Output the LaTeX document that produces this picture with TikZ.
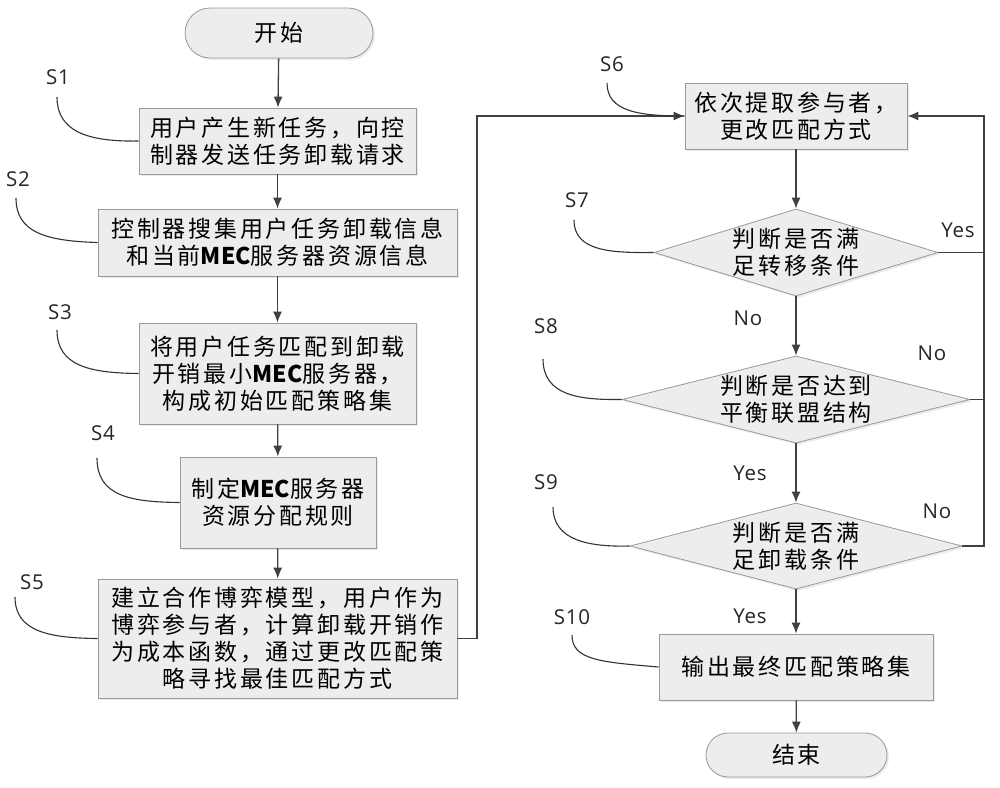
\documentclass[tikz,border=0pt]{standalone}
\usepackage{fontspec}
\newfontfamily\cjk{Noto Sans CJK SC}[LetterSpace=12]
\newfontfamily\cjkm{Noto Sans CJK SC}
\newfontfamily\lat{Open Sans}[LetterSpace=4]
\newcommand{\mec}{{\cjkm\bfseries MEC}}
\usetikzlibrary{arrows.meta,shapes.geometric,shadows}
\begin{document}
\begin{tikzpicture}[x=1pt,y=-1pt,
  line/.style={draw=black!75, line width=1.3pt},
  arr/.style={line, -{Latex[length=11pt,width=9pt]}},
  curv/.style={draw=black!80, line width=1.1pt},
  shd/.style={drop shadow={shadow xshift=2pt,shadow yshift=-2pt,fill=black!15}},
  box/.style={draw=black!40, fill=black!7, line width=0.8pt, inner sep=0pt, align=center, shd,
    font=\cjk\fontsize{23}{27}\selectfont},
  term/.style={box, rounded corners=22pt},
  dia/.style={diamond, draw=black!40, fill=black!7, line width=0.8pt, inner sep=0pt, shd},
  dtxt/.style={align=center, inner sep=0pt, font=\cjk\fontsize{23}{27}\selectfont},
  lab/.style={font=\lat\fontsize{20.5}{22}\selectfont, inner sep=0pt, text=black!85},
]
\useasboundingbox[fill=white] (0,0) rectangle (1000,787);

% left column
\node[term, minimum width=188pt, minimum height=50pt, rounded corners=25pt] (start) at (279,33) {开始};
\node[box, minimum width=277pt, minimum height=66pt] (s1) at (277.5,141) {用户产生新任务，向控\\制器发送任务卸载请求};
\node[box, minimum width=359pt, minimum height=67pt] (s2) at (277.5,242.5) {控制器搜集用户任务卸载信息\\和当前\mec 服务器资源信息};
\node[box, minimum width=277pt, minimum height=101pt] (s3) at (277.5,373.5) {将用户任务匹配到卸载\\开销最小\mec 服务器，\\构成初始匹配策略集};
\node[box, minimum width=196pt, minimum height=91pt] (s4) at (278,502.5) {制定\mec 服务器\\资源分配规则};
\node[box, minimum width=359pt, minimum height=119pt] (s5) at (277.5,638.5) {建立合作博弈模型，用户作为\\博弈参与者，计算卸载开销作\\为成本函数，通过更改匹配策\\略寻找最佳匹配方式};

% right column
\node[box, minimum width=222pt, minimum height=66pt] (s6) at (796,116) {依次提取参与者，\\更改匹配方式};
\node[dia, minimum width=284pt, minimum height=87pt] (d7) at (796,252.5) {};
\node[dtxt] (d7t) at (d7) {判断是否满\\足转移条件};
\node[dia, minimum width=348pt, minimum height=87pt] (d8) at (796,399.5) {};
\node[dtxt] (d8t) at (d8) {判断是否达到\\平衡联盟结构};
\node[dia, minimum width=332pt, minimum height=86pt] (d9) at (796,546) {};
\node[dtxt] (d9t) at (d9) {判断是否满\\足卸载条件};
\node[box, minimum width=274pt, minimum height=66pt] (s10) at (796,667) {输出最终匹配策略集};
\node[term, minimum width=181pt, minimum height=44pt] (end) at (796.5,755) {结束};

% loop coordinates
\coordinate (loopL) at (477,116);
\coordinate (loopR) at (984,116);

% connectors
\draw[arr] (start) -- (s1);
\draw[arr] (s1) -- (s2);
\draw[arr] (s2) -- (s3);
\draw[arr] (s3) -- (s4);
\draw[arr] (s4) -- (s5);
\draw[arr] (s5.east) -| (loopL) -- (s6.west);
\draw[arr] (s6) -- (d7);
\draw[arr] (d7) -- (d8);
\draw[arr] (d8) -- (d9);
\draw[arr] (d9) -- (s10);
\draw[arr] (s10) -- (end);
\draw[line] (d7.east) -- (d7.east -| loopR);
\draw[line] (d8.east) -- (d8.east -| loopR);
\draw[arr] (d9.east) -| (loopR) -- (s6.east);

% Yes / No labels
\node[lab] (y7) at (958,230) {Yes};
\node[lab] (n7) at (748,318) {No};
\node[lab] (n8) at (932,353) {No};
\node[lab] (y8) at (750,473) {Yes};
\node[lab] (n9) at (937,511) {No};
\node[lab] (y9) at (750,616) {Yes};

% step labels and curves
\node[lab] (l1) at (58,77) {S1};
\coordinate (c1) at (57,97);
\draw[curv] (c1) .. controls (57,130) and (85,142) .. (s1.west);
\node[lab] (l2) at (18,179) {S2};
\coordinate (c2) at (16,198);
\draw[curv] (c2) .. controls (16,232) and (45,241) .. (s2.west);
\node[lab] (l3) at (60,312) {S3};
\coordinate (c3) at (57,330);
\draw[curv] (c3) .. controls (57,366) and (90,373) .. (s3.west);
\node[lab] (l4) at (103,433) {S4};
\coordinate (c4) at (97,458);
\draw[curv] (c4) .. controls (97,496) and (130,502) .. (s4.west);
\node[lab] (l5) at (32,582) {S5};
\coordinate (c5) at (15,597);
\draw[curv] (c5) .. controls (15,632) and (50,638) .. (s5.west);
\node[lab] (l6) at (612,64) {S6};
\coordinate (c6) at (607,83);
\draw[curv] (c6) .. controls (607,112) and (640,116) .. (s6.west);
\node[lab] (l7) at (577,200) {S7};
\coordinate (c7) at (574,220);
\draw[curv] (c7) .. controls (574,251) and (610,253) .. (d7.west);
\node[lab] (l8) at (546,326) {S8};
\coordinate (c8) at (543,359);
\draw[curv] (c8) .. controls (543,396) and (580,400) .. (d8.west);
\node[lab] (l9) at (546,482) {S9};
\coordinate (c9) at (553,507);
\draw[curv] (c9) .. controls (553,541) and (590,547) .. (d9.west);
\node[lab] (l10) at (572,617) {S10};
\coordinate (c10) at (572,635);
\draw[curv] (c10) .. controls (572,660) and (600,662) .. (s10.west);
\end{tikzpicture}
\end{document}
